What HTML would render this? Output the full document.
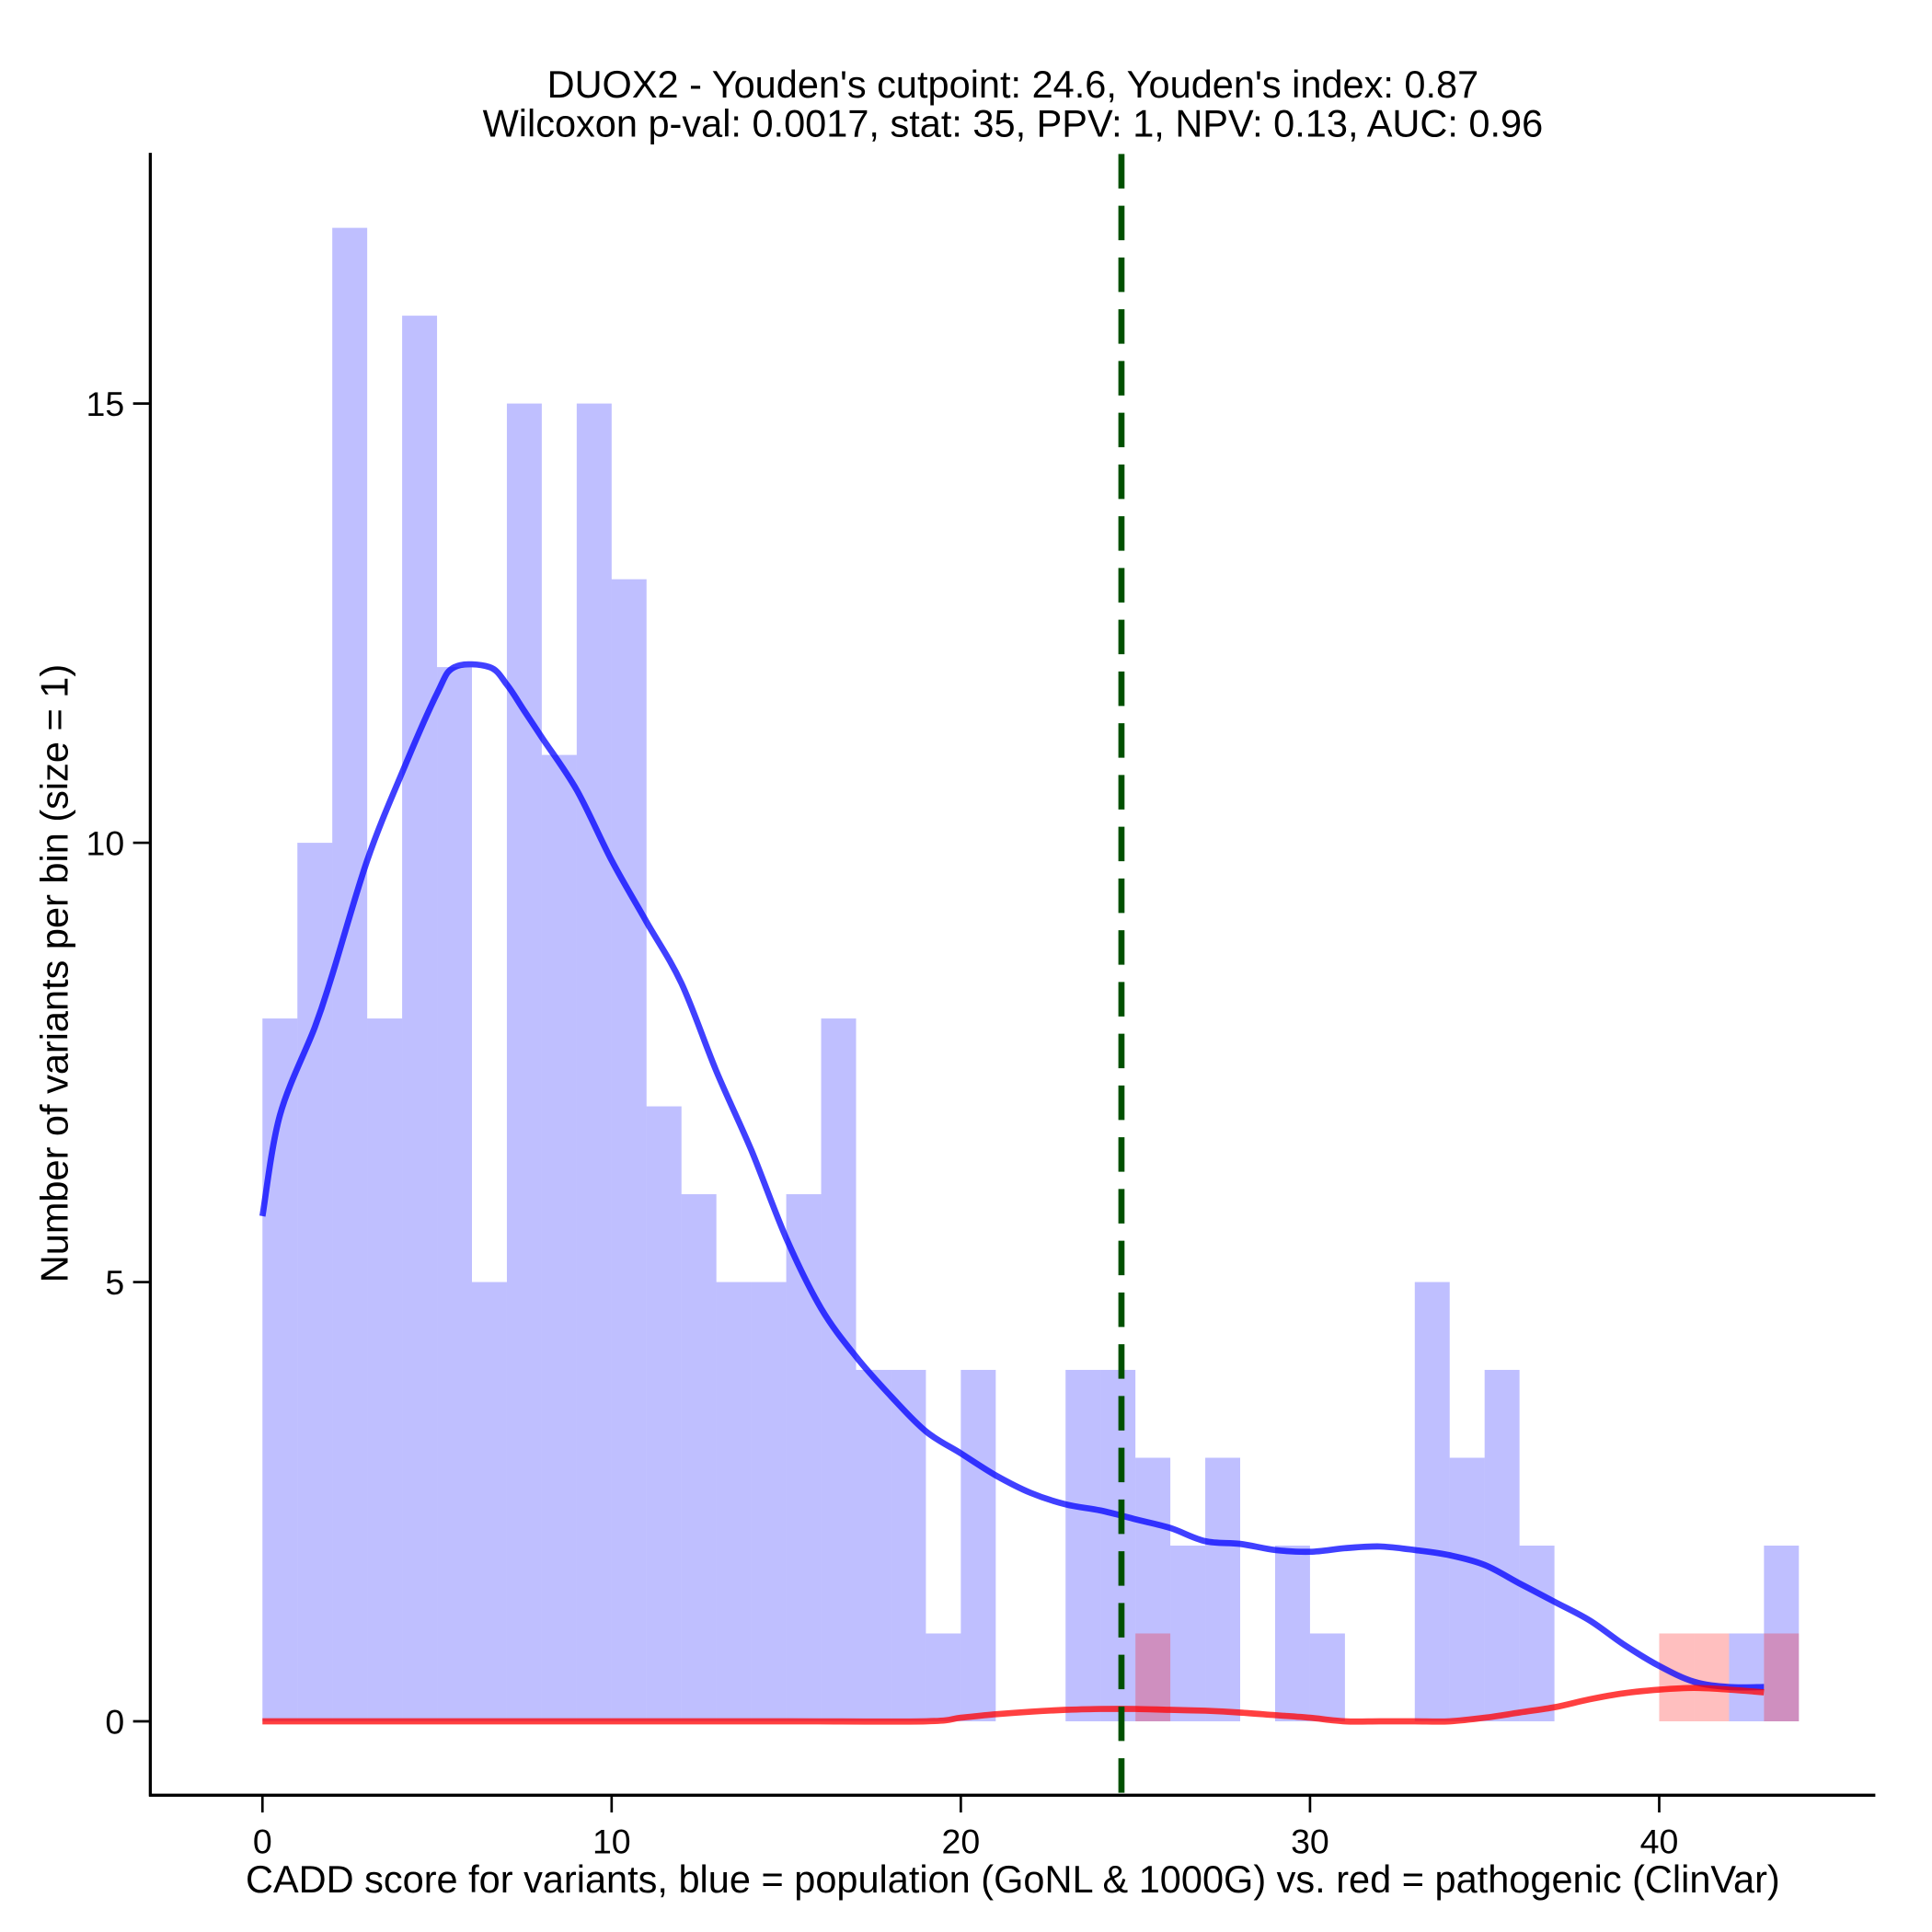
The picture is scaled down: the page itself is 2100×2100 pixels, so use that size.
<!DOCTYPE html>
<html><head><meta charset="utf-8"><style>
html,body{margin:0;padding:0;background:#fff}
svg{display:block;font-family:"Liberation Sans",Arial,sans-serif}
</style></head><body>
<svg id="chart" width="2100" height="2100" viewBox="0 0 1568 1568" xmlns="http://www.w3.org/2000/svg">
<g>
<text x="822" y="79" font-size="31" text-anchor="middle">DUOX2 - Youden's cutpoint: 24.6, Youden's index: 0.87</text>
<text x="822" y="111" font-size="31" text-anchor="middle">Wilcoxon p-val: 0.0017, stat: 35, PPV: 1, NPV: 0.13, AUC: 0.96</text>
</g>
<g id="bars"></g>
<g id="lines"></g>
<g id="axes"></g>
<text x="822" y="1536" font-size="31" text-anchor="middle">CADD score for variants, blue = population (GoNL &amp; 1000G) vs. red = pathogenic (ClinVar)</text>
<text transform="translate(55,790) rotate(-90)" font-size="31" text-anchor="middle">Number of variants per bin (size = 1)</text>
</svg>
<script>
const blueCounts=[8,10,17,8,16,12,5,15,11,15,13,7,6,5,5,6,8,4,4,1,4,0,0,4,4,3,2,3,0,2,1,0,0,5,3,4,2,0,0,0,0,0,1,2];
const redBins=[25,40,41,43];
const redCounts=[1,1,1,1];
const blueDensX=[0,0.5,1.5,2,3,4,5,5.5,6.5,7,7.5,8,9,10,11,12,13,14,15,16,17,18,19,20,21,22,23,24,25,26,27,28,29,30,31,32,33,34,35,36,37,38,39,40,41,42,43];
const blueDensY=[5.75,6.9,7.9,8.5,9.8,10.8,11.7,12,12,11.8,11.5,11.2,10.6,9.8,9.1,8.4,7.4,6.5,5.5,4.7,4.15,3.7,3.3,3.05,2.8,2.6,2.47,2.4,2.3,2.2,2.05,2.02,1.95,1.93,1.97,1.99,1.95,1.89,1.78,1.57,1.36,1.15,0.87,0.63,0.45,0.39,0.39];
const redDensX=[0,5,10,15,19,20,21,22,23,24,25,26,27,28,29,30,31,32,33,34,35,36,37,38,39,40,41,42,43];
const redDensY=[0,0,0,0,0,0.04,0.08,0.11,0.13,0.14,0.14,0.13,0.12,0.1,0.07,0.04,0,0,0,0,0.04,0.1,0.16,0.25,0.32,0.36,0.38,0.36,0.33];
const xTicks=[0,10,20,30,40];
const yTicks=[0,5,10,15];
const cutpoint=24.6;

const NS="http://www.w3.org/2000/svg";
const X=v=>213+v*28.34;
const Y=v=>1397-v*71.3;
function mk(tag,attrs,parent){const e=document.createElementNS(NS,tag);for(const k in attrs)e.setAttribute(k,attrs[k]);parent.appendChild(e);return e;}
const bars=document.getElementById('bars'),lines=document.getElementById('lines'),axes=document.getElementById('axes');
blueCounts.forEach((c,i)=>{if(!c)return;
 const r=mk('rect',{x:X(i),y:Y(c),width:X(i+1)-X(i),height:Y(0)-Y(c),fill:'#0000ff','fill-opacity':0.25},bars);
 
 });
redBins.forEach((b,i)=>{const c=redCounts[i];
 const r=mk('rect',{x:X(b),y:Y(c),width:X(b+1)-X(b),height:Y(0)-Y(c),fill:'#ff0000','fill-opacity':0.25},bars);
 
 });
function path(xs,ys){
 const p=xs.map((x,i)=>[X(x),Y(ys[i])]);
 let d='M'+p[0][0].toFixed(1)+' '+p[0][1].toFixed(1);
 for(let i=0;i<p.length-1;i++){
  const p0=p[Math.max(0,i-1)],p1=p[i],p2=p[i+1],p3=p[Math.min(p.length-1,i+2)];
  const c1=[p1[0]+(p2[0]-p0[0])/6,p1[1]+(p2[1]-p0[1])/6];
  const c2=[p2[0]-(p3[0]-p1[0])/6,p2[1]-(p3[1]-p1[1])/6];
  d+=' C'+c1.map(v=>v.toFixed(1)).join(' ')+' '+c2.map(v=>v.toFixed(1)).join(' ')+' '+p2.map(v=>v.toFixed(1)).join(' ');
 }
 return d;}
const bl=mk('path',{d:path(blueDensX,blueDensY),fill:'none',stroke:'#0000ff','stroke-opacity':0.75,'stroke-width':5,'stroke-linejoin':'round'},lines);


const rl=mk('path',{d:path(redDensX,redDensY),fill:'none',stroke:'#ff0000','stroke-opacity':0.75,'stroke-width':5,'stroke-linejoin':'round'},lines);


const cl=mk('line',{x1:X(cutpoint),x2:X(cutpoint),y1:125,y2:1457,stroke:'#005000','stroke-width':5,'stroke-dasharray':'28 14'},lines);


const ya=mk('line',{x1:122,x2:122,y1:124,y2:1458,stroke:'#000','stroke-width':2.5},axes);


const xa=mk('line',{x1:121,x2:1522,y1:1457,y2:1457,stroke:'#000','stroke-width':2.5},axes);


xTicks.forEach(t=>{
 const l=mk('line',{x1:X(t),x2:X(t),y1:1457,y2:1471,stroke:'#000','stroke-width':2},axes);
 
 
 const tx=mk('text',{x:X(t),y:1504,'font-size':28,'text-anchor':'middle'},axes);tx.textContent=t;
 
 });
yTicks.forEach(t=>{
 const l=mk('line',{x1:108,x2:122,y1:Y(t),y2:Y(t),stroke:'#000','stroke-width':2},axes);
 
 
 const tx=mk('text',{x:101,y:Y(t)+10,'font-size':28,'text-anchor':'end'},axes);tx.textContent=t;
 
 });
</script>
</body></html>
